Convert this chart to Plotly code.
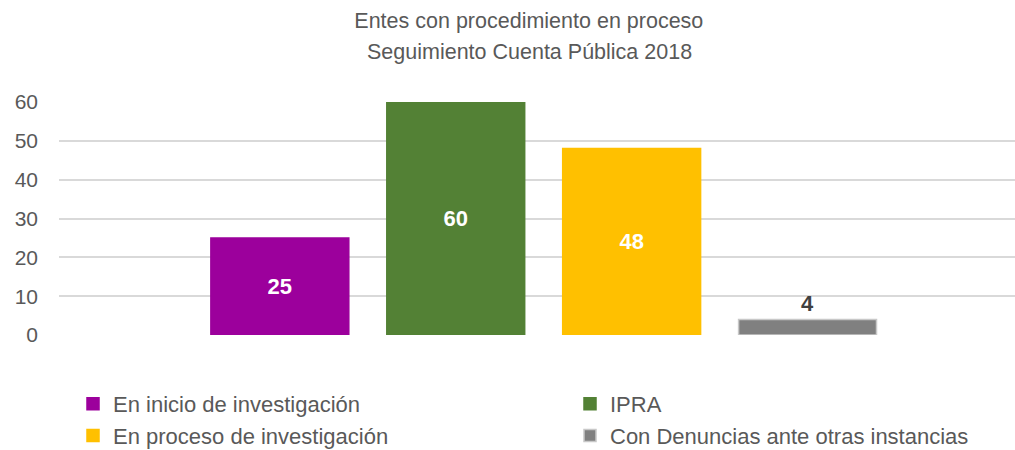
import plotly.graph_objects as go

series_names = ["En inicio de investigación", "IPRA", "En proceso de investigación", "Con Denuncias ante otras instancias"]
values = [25, 60, 48, 4]
colors = ["#9C009C", "#538135", "#FFC000", "#808080"]
line_colors = ["#9C009C", "#538135", "#FFC000", "#C8C8C8"]
label_colors = ["white", "white", "white", "#404040"]
label_pos = ["inside", "inside", "inside", "outside"]
legend_ids = ["legend", "legend2", "legend", "legend2"]
category = [""]
y_ticks = [0, 10, 20, 30, 40, 50, 60]
title_line1 = "Entes con procedimiento en proceso"
title_line2 = "Seguimiento Cuenta Pública 2018"

FONT = "Liberation Sans, Arial, sans-serif"

fig = go.Figure()
for name, v, c, lc, tc, tp, lg in zip(series_names, values, colors, line_colors, label_colors, label_pos, legend_ids):
    fig.add_trace(go.Bar(
        name=name, x=category, y=[v],
        marker=dict(color=c, line=dict(color=lc, width=1.5)),
        text=[str(v)], textposition=tp, insidetextanchor="middle",
        textfont=dict(family=FONT, size=22, color=tc, weight="bold"),
        cliponaxis=False, legend=lg,
    ))

legend_common = dict(orientation="v", xref="container", yref="container",
                     xanchor="left", yanchor="middle",
                     tracegroupgap=0, bgcolor="rgba(0,0,0,0)",
                     font=dict(family=FONT, size=22, color="#595959"))

fig.update_layout(
    width=1015, height=450,
    margin=dict(l=59, r=0, t=102, b=115, autoexpand=False),
    paper_bgcolor="white", plot_bgcolor="white",
    barmode="group", bargap=0.264, bargroupgap=0.216,
    title=dict(text=title_line1, x=0.521, xanchor="center", y=1 - 20 / 450, yanchor="middle",
               font=dict(family=FONT, size=21.5, color="#595959")),
    annotations=[dict(text=title_line2, xref="paper", yref="paper",
                      x=(529 - 59) / 956, y=(335 - 52) / 233, xanchor="center", yanchor="middle",
                      showarrow=False, font=dict(family=FONT, size=21.5, color="#595959"))],
    xaxis=dict(range=[-0.507, 0.493], showticklabels=False, showgrid=False, zeroline=False, fixedrange=True),
    yaxis=dict(range=[0, 60], tickvals=y_ticks, showgrid=True, gridcolor="#D9D9D9", gridwidth=1.5,
               zeroline=False, ticklabelstandoff=20,
               tickfont=dict(family=FONT, size=21, color="#595959")),
    showlegend=True,
    legend=dict(x=73 / 1015, y=1 - 420 / 450, **legend_common),
    legend2=dict(x=570 / 1015, y=1 - 420 / 450, **legend_common),
)
fig.update_traces(textangle=0)
fig.write_html("out.html", config={"displayModeBar": False},
               post_script="document.body.style.margin='0';document.body.style.overflow='hidden';")
